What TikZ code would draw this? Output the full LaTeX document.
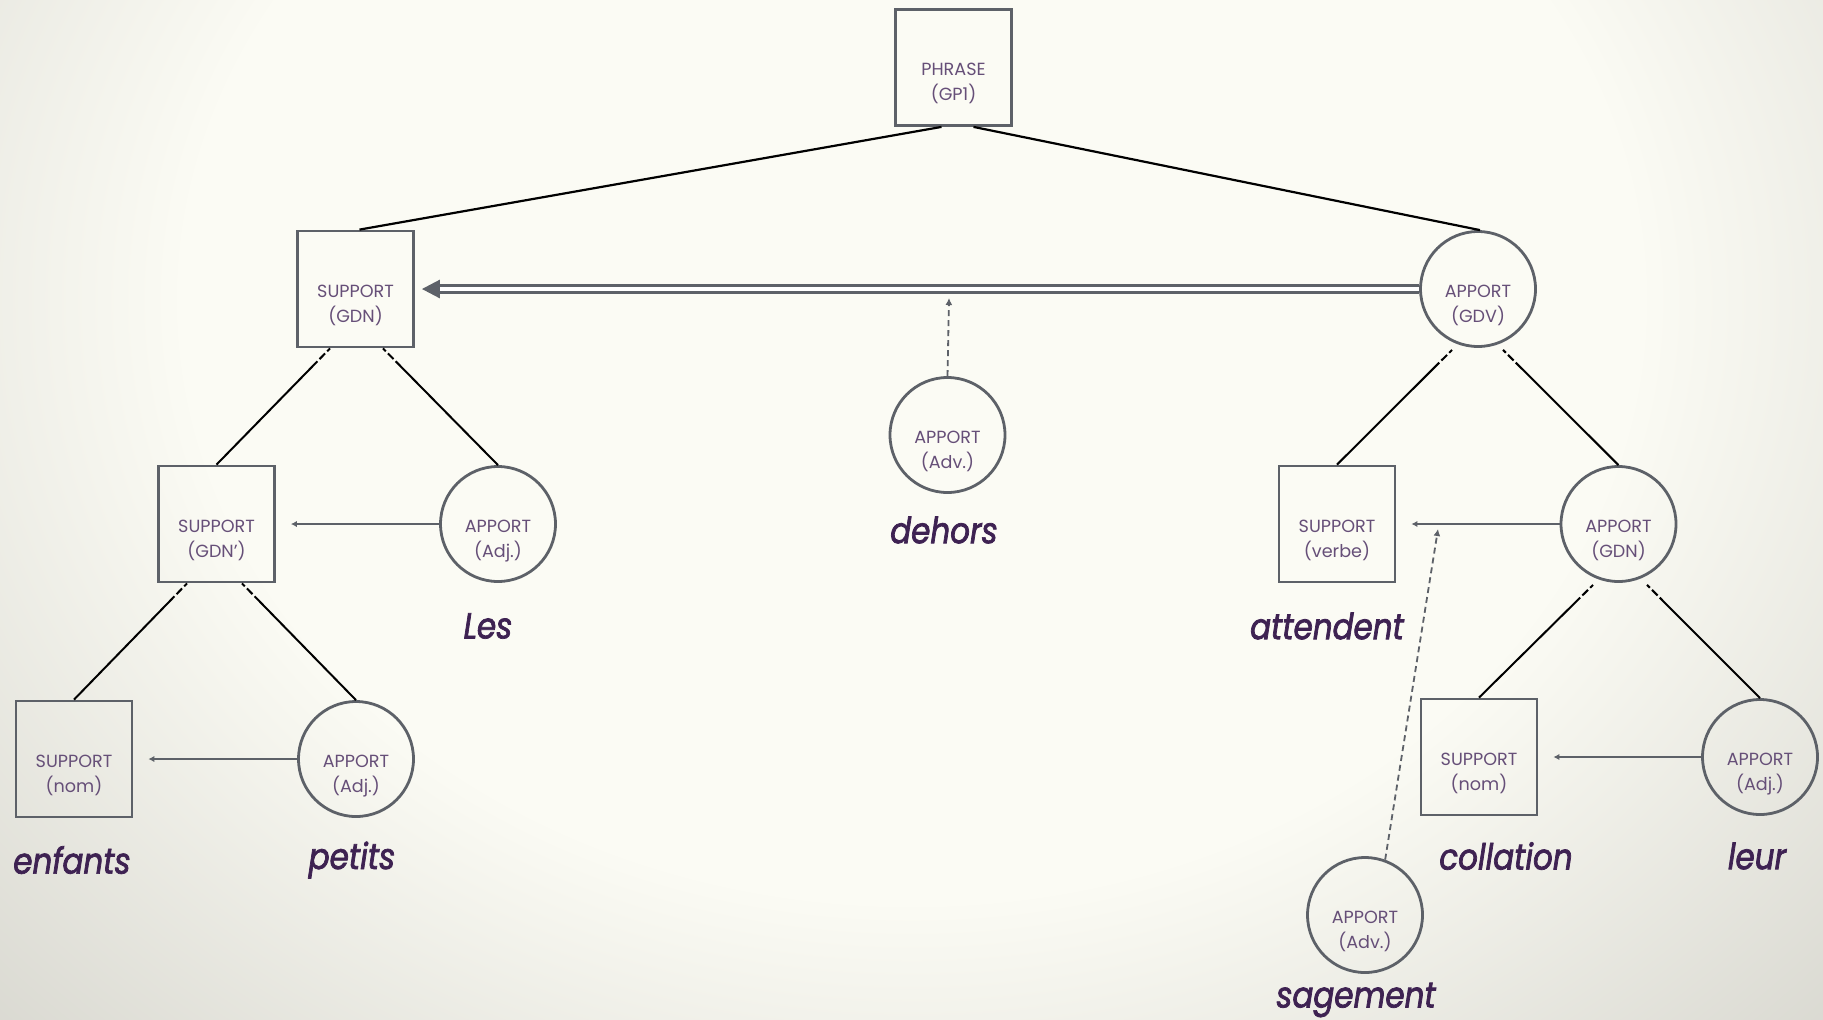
\documentclass[tikz,border=0pt]{standalone}
\usepackage{fontspec}
\setmainfont{Poppins}
\newfontfamily\wordfont[FakeStretch=0.86, FakeBold=2]{Poppins}
\usetikzlibrary{arrows.meta}
\definecolor{edgegray}{HTML}{5D6168}
\definecolor{labelpurple}{HTML}{664F78}
\definecolor{wordpurple}{HTML}{3E2252}
\definecolor{bgin}{HTML}{FBFBF4}
\definecolor{bgout}{HTML}{C0BFB7}
\pgfdeclareradialshading{paper}{\pgfpoint{0bp}{0bp}}{color(0bp)=(bgin); color(15bp)=(bgin); color(35bp)=(bgout); color(50bp)=(bgout)}
\begin{document}
\begin{tikzpicture}[x=0.5pt,y=-0.5pt,
    supp/.style={shape=rectangle, draw=edgegray, line width=1.4pt, minimum size=58pt, inner sep=0pt,
        align=center, text=labelpurple, text height=33.4pt, text depth=0pt, font=\fontsize{8.8}{12.6}\selectfont},
    app/.style={shape=circle, draw=edgegray, line width=1.4pt, minimum size=57.5pt, inner sep=0pt,
        align=center, text=labelpurple, text height=33.4pt, text depth=0pt, font=\fontsize{8.8}{12.6}\selectfont},
    word/.style={text=wordpurple, font=\wordfont\fontsize{18}{20}\selectfont\itshape},
    tree/.style={line width=1pt, dash pattern=on 2pt off 1.5pt on 4pt off 1.5pt on 300pt},
    link/.style={draw=edgegray, line width=1pt, -{Latex[length=3pt,width=3.2pt]}, shorten >=7.5pt},
    hint/.style={draw=edgegray, line width=0.9pt, dash pattern=on 3pt off 2pt, -{Latex[length=3.5pt,width=3.5pt]}}]

    % background
    \useasboundingbox (0,0) rectangle (1823,1019);
    \shade[shading=paper] (-300,-700) rectangle (2123,1300);

    % top
    \node[supp] (PHR) at (953.5,67.5) {PHRASE\\(GP1)};

    % left branch
    \node[supp] (GDN) at (355.5,289) {SUPPORT\\(GDN)};
    \node[supp] (GDNp) at (216.5,524) {SUPPORT\\(GDN')};
    \node[app] (ADJa) at (498,524) {APPORT\\(Adj.)};
    \node[supp] (NOMa) at (74,759) {SUPPORT\\(nom)};
    \node[app] (ADJb) at (356,759) {APPORT\\(Adj.)};

    % middle
    \node[app] (ADVa) at (947.5,435) {APPORT\\(Adv.)};

    % right branch
    \node[app] (GDV) at (1478,289) {APPORT\\(GDV)};
    \node[supp] (VERB) at (1337,524) {SUPPORT\\(verbe)};
    \node[app] (GDNb) at (1618.5,524) {APPORT\\(GDN)};
    \node[supp] (NOMb) at (1479,757) {SUPPORT\\(nom)};
    \node[app] (ADJc) at (1760,757) {APPORT\\(Adj.)};
    \node[app] (ADVb) at (1365,915) {APPORT\\(Adv.)};

    % words
    \node[word] (wLes) at (488,626) {Les};
    \node[word] (wEnfants) at (72,860) {enfants};
    \node[word] (wPetits) at (352,860) {petits};
    \node[word] (wDehors) at (944,530) {dehors};
    \node[word] (wAttendent) at (1327,626) {attendent};
    \node[word] (wCollation) at (1506,856) {collation};
    \node[word] (wLeur) at (1757,856) {leur};
    \node[word] (wSagement) at (1356,1000) {sagement};

    \coordinate (tipDehors) at (949,298);
    \coordinate (tipSagement) at (1438,529);

    % tree
    \draw[line width=1.1pt] ([xshift=-6pt]PHR.south) -- ([xshift=2pt]GDN.north);
    \draw[line width=1.1pt] ([xshift=10pt]PHR.south) -- ([xshift=1pt]GDV.north);

    \draw[tree] ([xshift=-12.75pt]GDN.south) -- (GDNp.north);
    \draw[tree] ([xshift=13.75pt]GDN.south) -- (ADJa.north);
    \draw[tree] ([xshift=-14.75pt]GDNp.south) -- (NOMa.north);
    \draw[tree] ([xshift=12.75pt]GDNp.south) -- (ADJb.north);

    \draw[tree] ([xshift=-13pt,yshift=-1pt]GDV.south) -- (VERB.north);
    \draw[tree] ([xshift=12.5pt,yshift=-1pt]GDV.south) -- (GDNb.north);
    \draw[tree] ([xshift=-12.75pt,yshift=-1pt]GDNb.south) -- (NOMb.north);
    \draw[tree] ([xshift=14.25pt,yshift=-1pt]GDNb.south) -- (ADJc.north);

    % relations
    \draw[draw=edgegray, double, double distance=2pt, line width=1.4pt, shorten >=3.5pt,
        -{Triangle[length=9pt,width=9pt]}] (GDV.west) -- (GDN.east);
    \draw[link] (ADJa.west) -- (GDNp.east);
    \draw[link] (ADJb.west) -- (NOMa.east);
    \draw[link] (GDNb.west) -- (VERB.east);
    \draw[link] (ADJc.west) -- (NOMb.east);

    \draw[hint] (ADVa.north) -- (tipDehors);
    \draw[hint] (ADVb.70) -- (tipSagement);
\end{tikzpicture}
\end{document}
